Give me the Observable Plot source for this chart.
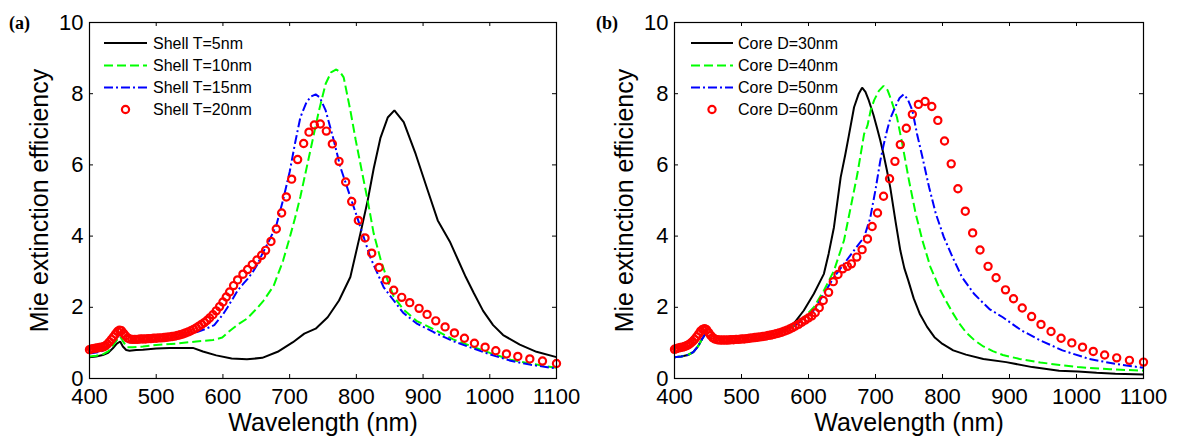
<!DOCTYPE html>
<html>
<head>
<meta charset="utf-8">
<script src="https://cdn.jsdelivr.net/npm/d3@7"></script>
<script src="https://cdn.jsdelivr.net/npm/@observablehq/plot@0.6"></script>
<style>
  body { margin: 0; background: #fff; }
  #wrap { position: relative; width: 1177px; height: 439px; background: #fff; overflow: hidden; }
  .pane { position: absolute; top: 0; }
  #overlay { position: absolute; left: 0; top: 0; pointer-events: none; }
</style>
</head>
<body>
<div id="wrap"></div>
<script>
// ---------- data ----------
const xTicks = [400, 500, 600, 700, 800, 900, 1000, 1100];
const yTicks = [0, 2, 4, 6, 8, 10];
const xLabel = "Wavelength (nm)";
const yLabel = "Mie extinction efficiency";
const panelTags = ["(a)", "(b)"];
const legendA = ["Shell T=5nm", "Shell T=10nm", "Shell T=15nm", "Shell T=20nm"];
const legendB = ["Core D=30nm", "Core D=40nm", "Core D=50nm", "Core D=60nm"];

// panel (a) lines: [wavelength, efficiency]
const aBlack = [[400,0.6],[410,0.62],[420,0.66],[428,0.72],[435,0.85],[441,0.98],[446,1.04],[450,0.9],[455,0.8],[460,0.78],[470,0.8],[480,0.81],[500,0.84],[520,0.86],[540,0.86],[555,0.86],[570,0.76],[590,0.65],[613,0.56],[636,0.54],[659,0.58],[682,0.75],[705,1.02],[722,1.26],[739,1.4],[757,1.72],[774,2.19],[791,2.85],[806,4.07],[817,5.0],[826,5.9],[836,6.75],[847,7.33],[857,7.53],[871,7.2],[889,6.3],[907,5.28],[922,4.44],[940,3.85],[952,3.35],[964,2.85],[976,2.4],[990,1.9],[1005,1.5],[1020,1.22],[1045,0.95],[1070,0.75],[1100,0.6]];
const aGreen = [[400,0.62],[410,0.64],[420,0.68],[428,0.76],[435,0.92],[441,1.08],[446,1.18],[450,1.05],[456,0.88],[465,0.88],[480,0.9],[500,0.94],[530,0.98],[560,1.04],[585,1.08],[599,1.15],[611,1.35],[625,1.55],[636,1.68],[650,1.95],[661,2.19],[676,2.6],[690,3.3],[700,3.95],[708,4.5],[716,5.1],[731,6.4],[744,7.53],[754,8.28],[762,8.6],[770,8.68],[776,8.6],[781,8.46],[791,7.53],[799,6.7],[809,5.75],[817,5.0],[826,4.07],[837,3.3],[847,2.75],[856,2.3],[870,1.95],[890,1.62],[916,1.38],[945,1.1],[973,0.9],[1000,0.72],[1031,0.53],[1060,0.42],[1100,0.3]];
const aBlue = [[400,0.7],[410,0.73],[420,0.78],[428,0.86],[435,1.0],[441,1.15],[446,1.25],[450,1.15],[456,1.02],[465,1.02],[480,1.05],[500,1.08],[520,1.12],[540,1.2],[560,1.3],[575,1.4],[587,1.5],[600,1.8],[607,2.0],[615,2.25],[622,2.47],[630,2.65],[637,2.8],[645,3.0],[652,3.22],[659,3.5],[670,3.9],[680,4.3],[690,5.0],[700,5.8],[708,6.6],[716,7.33],[725,7.75],[732,7.92],[739,7.98],[745,7.9],[754,7.53],[766,6.7],[776,5.94],[791,5.1],[806,4.26],[821,3.4],[841,2.56],[854,2.24],[870,1.85],[890,1.55],[916,1.3],[945,1.05],[973,0.86],[1000,0.68],[1031,0.5],[1060,0.39],[1100,0.28]];

// panel (b) lines
const bBlack = [[400,0.6],[410,0.62],[420,0.66],[428,0.74],[435,0.9],[441,1.1],[446,1.25],[450,1.2],[456,1.05],[465,1.0],[480,1.02],[500,1.05],[520,1.1],[540,1.18],[560,1.32],[578,1.54],[593,1.91],[608,2.38],[623,2.94],[630,3.5],[638,4.25],[648,5.65],[655,6.3],[660,6.8],[668,7.62],[675,8.0],[680,8.17],[685,8.05],[690,7.81],[697,7.4],[702,7.06],[707,6.7],[712,6.3],[717,5.85],[722,5.37],[730,4.4],[737,3.6],[743,3.1],[749,2.75],[757,2.25],[766,1.82],[777,1.45],[788,1.16],[800,0.97],[816,0.79],[835,0.67],[861,0.55],[895,0.46],[934,0.32],[974,0.22],[1002,0.2],[1030,0.16],[1058,0.13],[1100,0.11]];
const bGreen = [[400,0.6],[410,0.62],[420,0.66],[428,0.74],[435,0.9],[441,1.1],[446,1.25],[450,1.2],[456,1.05],[465,1.0],[480,1.02],[500,1.05],[520,1.1],[540,1.18],[560,1.3],[578,1.48],[593,1.72],[608,2.0],[623,2.47],[638,3.03],[653,3.88],[663,4.81],[673,5.75],[683,6.87],[688,7.1],[693,7.55],[698,7.82],[705,8.08],[712,8.22],[718,8.1],[722,7.9],[732,7.34],[740,6.59],[750,5.56],[760,4.63],[770,3.88],[782,3.13],[797,2.47],[805,2.19],[815,1.85],[825,1.55],[835,1.3],[848,1.07],[861,0.9],[875,0.77],[890,0.66],[915,0.55],[946,0.45],[975,0.38],[1002,0.32],[1050,0.26],[1100,0.22]];
const bBlue = [[400,0.6],[410,0.62],[420,0.66],[428,0.74],[435,0.9],[441,1.1],[446,1.25],[450,1.2],[456,1.05],[465,1.0],[480,1.02],[500,1.05],[520,1.1],[540,1.18],[560,1.3],[578,1.46],[593,1.68],[608,1.91],[623,2.38],[638,2.85],[653,3.22],[668,3.6],[683,3.97],[692,4.5],[700,5.3],[707,6.1],[712,6.55],[717,6.95],[722,7.3],[730,7.65],[736,7.88],[742,7.98],[748,7.85],[755,7.53],[762,6.87],[770,6.22],[780,5.37],[790,4.63],[802,3.97],[815,3.41],[829,2.85],[847,2.38],[857,2.19],[870,1.95],[890,1.72],[918,1.35],[946,1.07],[979,0.79],[1019,0.55],[1058,0.41],[1100,0.3]];

// red circle series: shared wavelength grid
const redWl = [400,403,406,409,412,415,418,421,424,427,430,433,436,439,442,445,448,451,454,457,460,464,468,472,476,480,484,488,492,496,500,504,508,512,516,520,524,528,532,536,540,544,548,552,556,560,564,568,572,576,580,585,590,595,600,605,610,616,622,630,637,644,651,658,664,672,680,688,695,703,712,721,729,737,746,755,764,774,784,793,803,813,823,834,845,856,868,880,894,906,919,933,947,962,977,993,1009,1025,1042,1060,1079,1100];
const redA = [0.81,0.83,0.84,0.85,0.86,0.87,0.88,0.89,0.92,0.97,1.03,1.10,1.17,1.25,1.32,1.36,1.34,1.27,1.20,1.14,1.11,1.10,1.10,1.10,1.11,1.11,1.11,1.12,1.12,1.13,1.13,1.14,1.14,1.15,1.16,1.17,1.18,1.19,1.21,1.23,1.25,1.28,1.31,1.34,1.38,1.42,1.47,1.52,1.57,1.63,1.70,1.79,1.90,2.02,2.15,2.29,2.43,2.61,2.77,2.93,3.06,3.20,3.33,3.46,3.60,3.85,4.20,4.65,5.10,5.60,6.15,6.60,6.92,7.12,7.15,6.95,6.59,6.10,5.52,4.97,4.44,3.95,3.52,3.12,2.77,2.48,2.28,2.13,1.97,1.80,1.62,1.45,1.28,1.13,0.99,0.88,0.78,0.69,0.62,0.55,0.49,0.42];
const redB = [0.82,0.84,0.86,0.87,0.88,0.90,0.92,0.95,0.99,1.04,1.10,1.17,1.25,1.33,1.38,1.40,1.37,1.29,1.21,1.15,1.11,1.09,1.08,1.08,1.08,1.08,1.09,1.09,1.10,1.10,1.11,1.11,1.12,1.13,1.14,1.15,1.16,1.17,1.18,1.19,1.21,1.22,1.24,1.26,1.28,1.30,1.33,1.36,1.39,1.43,1.47,1.52,1.58,1.64,1.70,1.76,1.85,1.99,2.19,2.42,2.72,2.92,3.08,3.15,3.22,3.41,3.62,3.92,4.27,4.65,5.12,5.61,6.10,6.57,7.03,7.42,7.70,7.78,7.64,7.25,6.67,6.03,5.33,4.70,4.09,3.61,3.15,2.83,2.49,2.24,1.98,1.74,1.52,1.32,1.13,1.00,0.88,0.76,0.66,0.58,0.51,0.46];

// ---------- drawing ----------
const W = 1177, H = 439, MT = 22, MB = 61;
const FONT = '"Liberation Sans", Arial, Helvetica, sans-serif';
const lineStyles = [
  { stroke: "#000000", dash: null },
  { stroke: "#00ff00", dash: "9,4" },
  { stroke: "#0000ff", dash: "9,3,2,3" }
];
const RED = "#ff0000";

function toObj(pairs) { return pairs.map(([x, y]) => ({ x, y })); }

function panel(width, ml, mr, lines, redVals) {
  const pw = width - ml - mr, ph = H - MT - MB;
  const n = Math.min(redWl.length, redVals.length);
  const redData = redWl.slice(0, n).map((x, i) => ({ x, y: redVals[i] }));
  return Plot.plot({
    width, height: H,
    marginLeft: ml, marginRight: mr, marginTop: MT, marginBottom: MB,
    style: { fontFamily: FONT, color: "#000", background: "transparent", overflow: "visible" },
    x: { domain: [400, 1100] },
    y: { domain: [0, 10] },
    marks: [
      ...lines.map((s, i) => Plot.line(toObj(s), {
        x: "x", y: "y", stroke: lineStyles[i].stroke, strokeWidth: 2,
        strokeDasharray: lineStyles[i].dash, strokeLinejoin: "miter", strokeLinecap: "butt"
      })),
      Plot.dot(redData, { x: "x", y: "y", r: 3.6, stroke: RED, strokeWidth: 2.2, fill: "none" }),
      Plot.frame({ stroke: "#000", strokeWidth: 1.2 }),
      Plot.tickX(xTicks, { x: d => d, insetTop: ph - 4, stroke: "#000" }),
      Plot.tickX(xTicks, { x: d => d, insetBottom: ph - 4, stroke: "#000" }),
      Plot.tickY(yTicks, { y: d => d, insetRight: pw - 4, stroke: "#000" }),
      Plot.tickY(yTicks, { y: d => d, insetLeft: pw - 4, stroke: "#000" }),
      Plot.axisX({ ticks: xTicks, tickSize: 0, tickPadding: 10, fontSize: 22, tickFormat: "d", label: null }),
      Plot.axisY({ ticks: yTicks, tickSize: 0, tickPadding: 6, fontSize: 22, tickFormat: "d", label: null }),
      Plot.text([xLabel], { frameAnchor: "bottom", dy: 44, fontSize: 25, text: d => d, fill: "#000",
        textAnchor: "middle", lineAnchor: "middle" }),
      Plot.text([yLabel], { frameAnchor: "left", dx: -50, rotate: -90, fontSize: 25, text: d => d, fill: "#000",
        textAnchor: "middle", lineAnchor: "middle" })
    ]
  });
}

const wrap = document.getElementById("wrap");
const panes = [
  { left: 0, width: 588, ml: 89, mr: 32, lines: [aBlack, aGreen, aBlue], red: redA },
  { left: 588, width: 589, ml: 86, mr: 34, lines: [bBlack, bGreen, bBlue], red: redB }
];
panes.forEach(p => {
  const div = document.createElement("div");
  div.className = "pane";
  div.style.left = p.left + "px";
  div.appendChild(panel(p.width, p.ml, p.mr, p.lines, p.red));
  wrap.appendChild(div);
});

// legends and panel tags (overlay)
const ov = d3.select(wrap).append("svg").attr("id", "overlay").attr("width", W).attr("height", H);
const rowsY = [43, 65.5, 87.5, 109.5];
const legendCfg = [
  { labels: legendA, x1: 104, x2: 147, tx: 153, tag: panelTags[0], tagX: 9 },
  { labels: legendB, x1: 691, x2: 733, tx: 738, tag: panelTags[1], tagX: 596 }
];
legendCfg.forEach(cfg => {
  cfg.labels.forEach((lab, i) => {
    const y = rowsY[i];
    if (i < 3) {
      ov.append("line").attr("x1", cfg.x1).attr("x2", cfg.x2).attr("y1", y).attr("y2", y)
        .attr("stroke", lineStyles[i].stroke).attr("stroke-width", 2)
        .attr("stroke-dasharray", lineStyles[i].dash);
    } else {
      ov.append("circle").attr("cx", (cfg.x1 + cfg.x2) / 2).attr("cy", y).attr("r", 3.6)
        .attr("fill", "none").attr("stroke", RED).attr("stroke-width", 2.2);
    }
    ov.append("text").attr("x", cfg.tx).attr("y", y).attr("dy", "0.35em")
      .attr("font-family", FONT).attr("font-size", 16).attr("fill", "#000").text(lab);
  });
  ov.append("text").attr("x", cfg.tagX).attr("y", 29)
    .attr("font-family", '"Liberation Serif", "Times New Roman", serif')
    .attr("font-weight", "bold").attr("font-size", 18).attr("fill", "#000").text(cfg.tag);
});
</script>
</body>
</html>
